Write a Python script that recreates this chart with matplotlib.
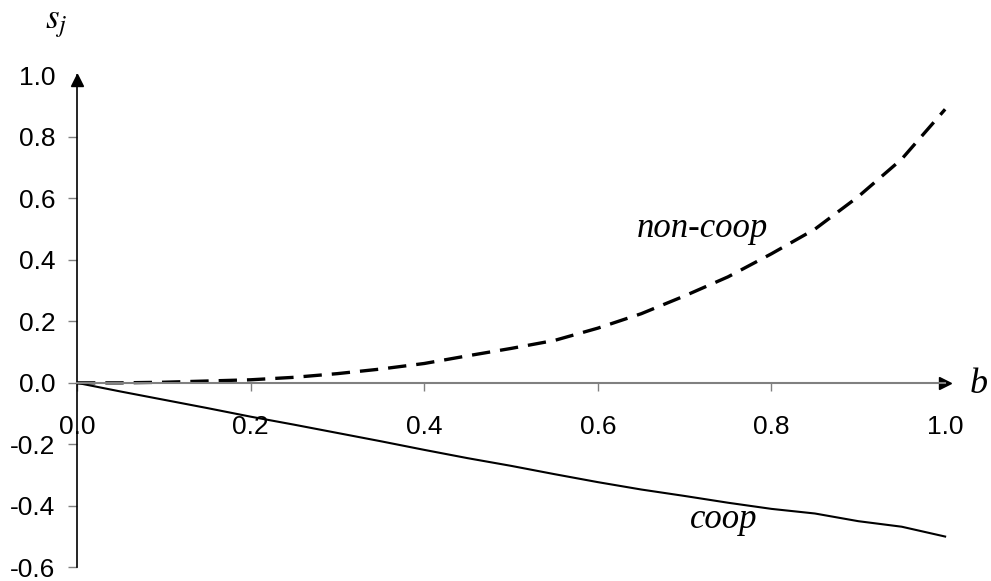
import matplotlib
matplotlib.use("Agg")
import matplotlib.pyplot as plt

plt.rcParams['font.family'] = ['Liberation Sans', 'DejaVu Sans']
plt.rcParams['mathtext.fontset'] = 'stix'

# data
b = [0.0, 0.05, 0.1, 0.15, 0.2, 0.25, 0.3, 0.35, 0.4, 0.45, 0.5,
     0.55, 0.6, 0.65, 0.7, 0.75, 0.8, 0.85, 0.9, 0.95, 1.0]
non_coop = [0.0, 0.0, 0.002, 0.006, 0.010, 0.018, 0.030, 0.045, 0.063, 0.088, 0.112,
            0.138, 0.178, 0.225, 0.283, 0.345, 0.420, 0.500, 0.606, 0.728, 0.890]
coop = [0.0, -0.028, -0.055, -0.082, -0.110, -0.136, -0.163, -0.190, -0.218, -0.245, -0.270,
        -0.297, -0.323, -0.347, -0.368, -0.390, -0.410, -0.425, -0.450, -0.468, -0.500]

x_ticks = [0.0, 0.2, 0.4, 0.6, 0.8, 1.0]
y_ticks = [-0.6, -0.4, -0.2, 0.0, 0.2, 0.4, 0.6, 0.8, 1.0]

fig = plt.figure(figsize=(9.91, 5.81), dpi=100)
ax = fig.add_axes([0.0777, 0.0236, 0.876, 0.8465])

ax.plot(b, coop, color='black', lw=1.5, clip_on=False)
ax.plot(b, non_coop, color='black', lw=2.4, dashes=(5.5, 3), clip_on=False)

ax.set_xlim(0, 1.0)
ax.set_ylim(-0.6, 1.0)

for s in ['top', 'right']:
    ax.spines[s].set_visible(False)
ax.spines['bottom'].set_position(('data', 0))
ax.spines['bottom'].set_color('#808080')
ax.spines['bottom'].set_linewidth(1.5)
ax.spines['left'].set_color('black')
ax.spines['left'].set_linewidth(1.2)

ax.set_xticks(x_ticks)
ax.set_xticklabels(['%.1f' % v for v in x_ticks])
ax.set_yticks(y_ticks)
ax.set_yticklabels(['%.1f' % v for v in y_ticks])
ax.tick_params(axis='x', direction='out', length=6, width=1, color='#808080',
               labelsize=19, pad=17)
ax.tick_params(axis='y', direction='out', length=6.5, width=1, color='#808080',
               labelsize=19, pad=9)
ax.xaxis.get_major_ticks()[-1].tick1line.set_visible(False)
ax.yaxis.get_major_ticks()[-1].tick1line.set_visible(False)

# arrow heads
ax.plot(1.0, 0, marker='>', color='black', ms=9, clip_on=False)
ax.plot(0, 0.985, marker='^', color='black', ms=9, clip_on=False)

# labels
fig.text(0.045, 1 - 28 / 581, '$s_j$', fontsize=25)
fig.text(970 / 991, 1 - 393 / 581, 'b', fontsize=26, family='Liberation Serif', style='italic')
fig.text(637 / 991, 1 - 237 / 581, 'non-coop', fontsize=25, family='Liberation Serif', style='italic')
fig.text(690 / 991, 1 - 528 / 581, 'coop', fontsize=25, family='Liberation Serif', style='italic')

fig.savefig('out.png', dpi=100)
